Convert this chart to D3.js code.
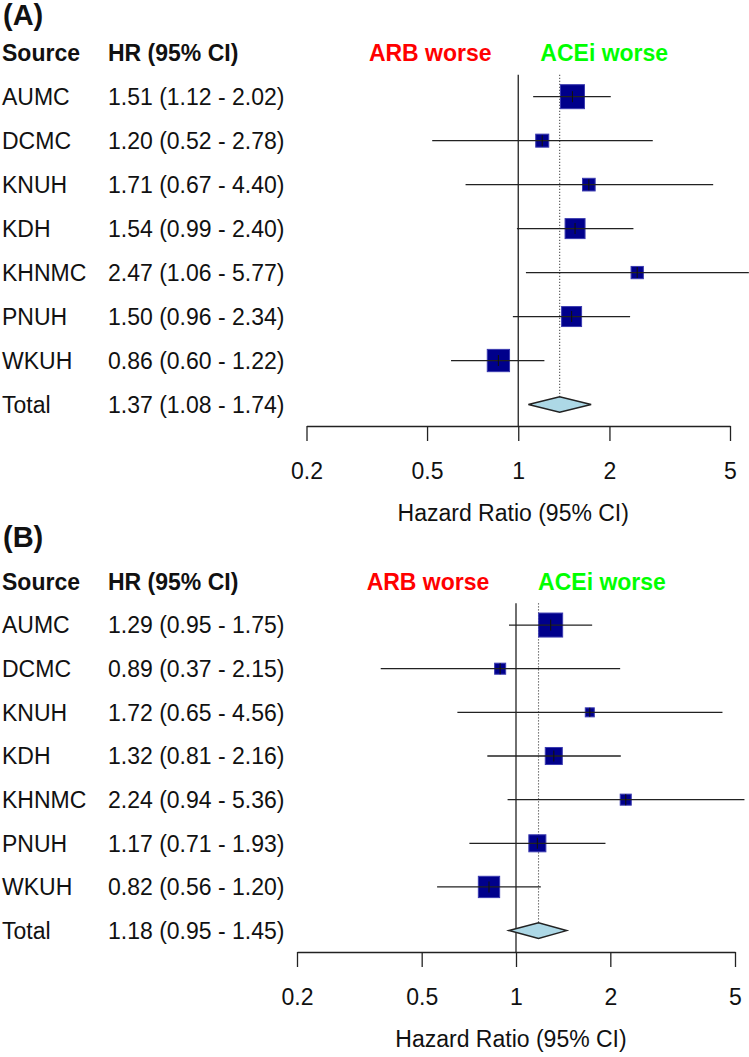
<!DOCTYPE html>
<html>
<head>
<meta charset="utf-8">
<script src="https://cdn.jsdelivr.net/npm/d3@7"></script>
<style>
  html, body { margin: 0; padding: 0; background: #fff; }
  svg { display: block; font-family: "Liberation Sans", Arial, sans-serif; }
</style>
</head>
<body>
<svg id="chart" width="749" height="1057"></svg>
<script>
// ---- data ----
const studies = ["AUMC", "DCMC", "KNUH", "KDH", "KHNMC", "PNUH", "WKUH"];
const tickValues = [0.2, 0.5, 1, 2, 5];
const panelLabels = ["(A)", "(B)"];

const hrA   = [1.51, 1.20, 1.71, 1.54, 2.47, 1.50, 0.86];
const lowA  = [1.12, 0.52, 0.67, 0.99, 1.06, 0.96, 0.60];
const highA = [2.02, 2.78, 4.40, 2.40, 5.77, 2.34, 1.22];
const weightA = [24.5, 7.2, 6.8, 17.0, 6.4, 17.0, 21.1];
const totalA = [1.37, 1.08, 1.74];

const hrB   = [1.29, 0.89, 1.72, 1.32, 2.24, 1.17, 0.82];
const lowB  = [0.95, 0.37, 0.65, 0.81, 0.94, 0.71, 0.56];
const highB = [1.75, 2.15, 4.56, 2.16, 5.36, 1.93, 1.20];
const weightB = [29.8, 6.3, 4.2, 15.0, 6.3, 15.0, 23.5];
const totalB = [1.18, 0.95, 1.45];

// ---- layout ----
const FONT = 23;
const svg = d3.select("#chart");
const fmt = d3.format(".2f");

const panels = [
  { label: panelLabels[0], labelY: 25, hr: hrA, low: lowA, high: highA, w: weightA, total: totalA,
    xRange: [306.5, 730], yTop: 52.7, yBottom: 404.5, axisY: 426 },
  { label: panelLabels[1], labelY: 546.5, hr: hrB, low: lowB, high: highB, w: weightB, total: totalB,
    xRange: [297, 735], yTop: 581.4, yBottom: 930.6, axisY: 952 }
];

panels.forEach(p => {
  const g = svg.append("g");
  const x = d3.scaleLog().domain([0.2, 5]).range(p.xRange);
  const y = d3.scaleLinear().domain([0, studies.length + 1]).range([p.yTop, p.yBottom]);
  const step = y(1) - y(0);
  const base = FONT * 0.36;
  const maxW = d3.max(p.w);
  const side = d3.scaleSqrt().domain([0, maxW]).range([0, 24]);

  // panel label
  g.append("text").attr("x", 3).attr("y", p.labelY)
    .attr("font-size", 29).attr("font-weight", "bold").attr("fill", "#111").text(p.label);

  // header row
  g.append("text").attr("x", 2).attr("y", y(0) + base).attr("font-size", FONT)
    .attr("font-weight", "bold").attr("fill", "#111").text("Source");
  g.append("text").attr("x", 108).attr("y", y(0) + base).attr("font-size", FONT)
    .attr("font-weight", "bold").attr("fill", "#111").text("HR (95% CI)");
  g.append("text").attr("x", x(1) - 88).attr("y", y(0) + base).attr("font-size", FONT)
    .attr("font-weight", "bold").attr("fill", "#ff0000").attr("text-anchor", "middle").text("ARB worse");
  g.append("text").attr("x", x(1) + 86).attr("y", y(0) + base).attr("font-size", FONT)
    .attr("font-weight", "bold").attr("fill", "#00ff00").attr("text-anchor", "middle").text("ACEi worse");

  // study rows text
  const rows = studies.map((s, i) => ({ name: s, hr: p.hr[i], lo: p.low[i], hi: p.high[i], w: p.w[i], r: i + 1 }));
  rows.push({ name: "Total", hr: p.total[0], lo: p.total[1], hi: p.total[2], r: studies.length + 1, total: true });

  g.selectAll(".name").data(rows).join("text")
    .attr("x", 2).attr("y", d => y(d.r) + base).attr("font-size", FONT).attr("fill", "#111")
    .text(d => d.name);
  g.selectAll(".val").data(rows).join("text")
    .attr("x", 108).attr("y", d => y(d.r) + base).attr("font-size", FONT).attr("fill", "#111")
    .text(d => `${fmt(d.hr)} (${fmt(d.lo)} - ${fmt(d.hi)})`);

  const topLine = y(0) + step / 2;

  // line of no effect
  g.append("line").attr("x1", x(1)).attr("x2", x(1)).attr("y1", topLine).attr("y2", p.axisY)
    .attr("stroke", "#222").attr("stroke-width", 1.3);

  // dotted line at summary estimate
  const tot = rows[rows.length - 1];
  g.append("line").attr("x1", x(tot.hr)).attr("x2", x(tot.hr)).attr("y1", topLine).attr("y2", y(tot.r) - 8)
    .attr("stroke", "#555").attr("stroke-width", 1.1).attr("stroke-dasharray", "1.2,1.8");

  const studyRows = rows.filter(d => !d.total);
  // boxes
  g.selectAll(".box").data(studyRows).join("rect")
    .attr("x", d => x(d.hr) - side(d.w) / 2).attr("y", d => y(d.r) - side(d.w) / 2)
    .attr("width", d => side(d.w)).attr("height", d => side(d.w))
    .attr("fill", "#00008b").attr("stroke", "#3b3bb0").attr("stroke-width", 1);
  // CI lines
  g.selectAll(".ci").data(studyRows).join("line")
    .attr("x1", d => x(d.lo)).attr("x2", d => x(d.hi))
    .attr("y1", d => y(d.r)).attr("y2", d => y(d.r))
    .attr("stroke", "#222").attr("stroke-width", 1.3);
  // point ticks
  g.selectAll(".pt").data(studyRows).join("line")
    .attr("x1", d => x(d.hr)).attr("x2", d => x(d.hr))
    .attr("y1", d => y(d.r) - Math.min(5.5, side(d.w) / 2)).attr("y2", d => y(d.r) + Math.min(5.5, side(d.w) / 2))
    .attr("stroke", "#111").attr("stroke-width", 1.1);

  // diamond
  const dh = 7.8;
  g.append("path")
    .attr("d", `M${x(tot.lo)},${y(tot.r)} L${x(tot.hr)},${y(tot.r) - dh} L${x(tot.hi)},${y(tot.r)} L${x(tot.hr)},${y(tot.r) + dh} Z`)
    .attr("fill", "#add8e6").attr("stroke", "#222").attr("stroke-width", 1.5);

  // axis
  const axis = d3.axisBottom(x).tickValues(tickValues).tickFormat(d => String(d))
    .tickSize(15).tickSizeOuter(0).tickPadding(22);
  const ag = g.append("g").attr("transform", `translate(0,${p.axisY})`).call(axis);
  ag.select(".domain").attr("stroke", "#222").attr("stroke-width", 1.3);
  ag.selectAll(".tick line").attr("stroke", "#222").attr("stroke-width", 1.3);
  ag.selectAll(".tick text").attr("font-size", FONT).attr("fill", "#111")
    .attr("font-family", "Liberation Sans, Arial, sans-serif");

  g.append("text").attr("x", (p.xRange[0] + p.xRange[1]) / 2 - 5).attr("y", p.axisY + 95)
    .attr("text-anchor", "middle").attr("font-size", FONT).attr("fill", "#111")
    .text("Hazard Ratio (95% CI)");
});
</script>
</body>
</html>
